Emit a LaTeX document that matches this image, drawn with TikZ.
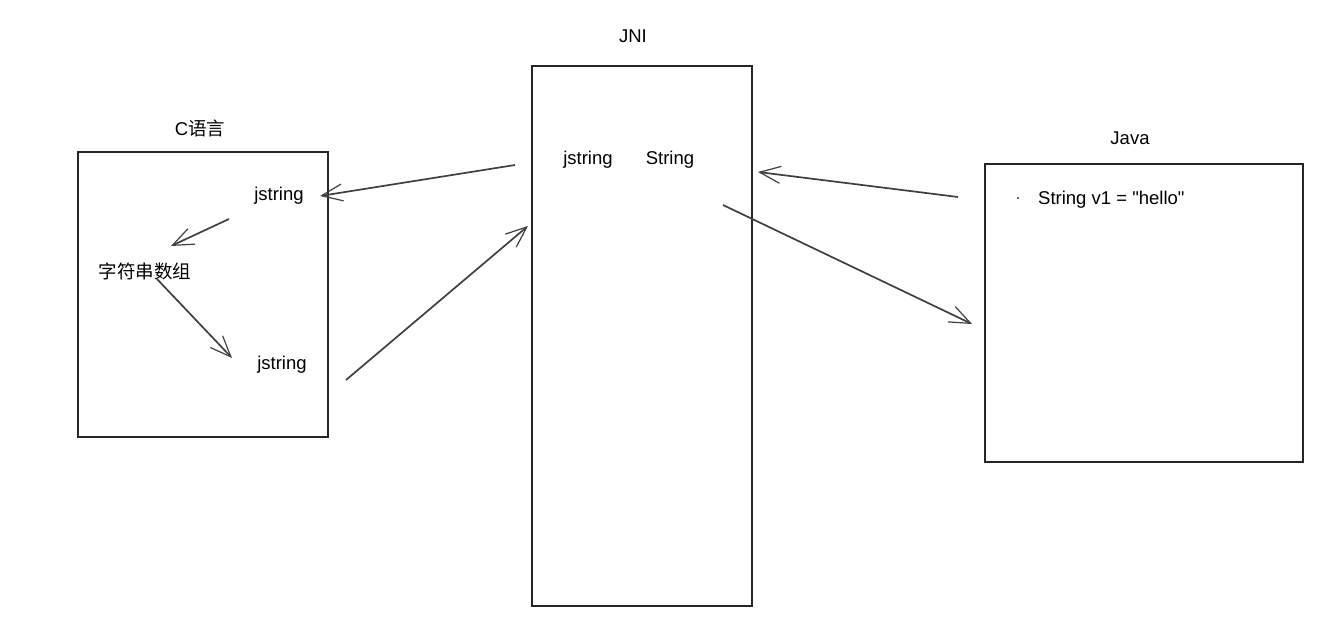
\documentclass[tikz,border=0pt]{standalone}
\usepackage{fontspec}
\setmainfont{Liberation Sans}
\newfontfamily\cjk{Noto Sans CJK SC}
\newfontfamily\plainquotes{Liberation Sans}[Ligatures=TeXOff]
\usetikzlibrary{arrows.meta}

\begin{document}
\begin{tikzpicture}[x=1pt,y=-1pt,
    box/.style={draw=black!85,line width=1.5pt,minimum width=#1},
    lbl/.style={font=\fontsize{18.5}{22}\selectfont,inner sep=0pt},
    flow/.style={draw=black!75,line width=1.7pt,-{Straight Barb[length=21pt,width=17pt,line width=1.2pt]}}]
  \useasboundingbox (0,0) rectangle (1344,624);
  % the three boxes
  \node[box=250pt,minimum height=285pt] (cbox) at (203,294.5) {};
  \node[box=220pt,minimum height=540pt] (jnibox) at (642,336) {};
  \node[box=318pt,minimum height=298pt] (javabox) at (1144,313) {};
  % titles
  \node[lbl] (ctitle) at (200,128) {C{\cjk 语言}};
  \node[lbl] (jnititle) at (633,36) {JNI};
  \node[lbl] (javatitle) at (1130,138) {Java};
  % texts
  \node[lbl] (cjstr) at (279,196) {jstring};
  \node[lbl] (carr) at (145,271) {\cjk 字符串数组};
  \node[lbl] (cjstrb) at (282,365) {jstring};
  \node[lbl] (jnijstr) at (588,160) {jstring};
  \node[lbl] (jnistr) at (670,160) {String};
  \node[lbl,anchor=west] (javastr) at (1038,200) {\plainquotes String v1 = "hello"};
  \fill[black!80] (1018,198) circle (1.2);
  % arrow ends
  \coordinate (a1s) at (515,165);  \coordinate (a1e) at (320,196);
  \coordinate (a2s) at (229,219);  \coordinate (a2e) at (171,246);
  \coordinate (a3s) at (157,279);  \coordinate (a3e) at (232,358);
  \coordinate (a4s) at (346,380);  \coordinate (a4e) at (528,226);
  \coordinate (a5s) at (958,197);  \coordinate (a5e) at (758,172);
  \coordinate (a6s) at (723,205);  \coordinate (a6e) at (972,324);
  \draw[flow] (a1s) -- (a1e);
  \draw[flow] (a2s) -- (a2e);
  \draw[flow] (a3s) -- (a3e);
  \draw[flow] (a4s) -- (a4e);
  \draw[flow] (a5s) -- (a5e);
  \draw[flow] (a6s) -- (a6e);
\end{tikzpicture}
\end{document}
